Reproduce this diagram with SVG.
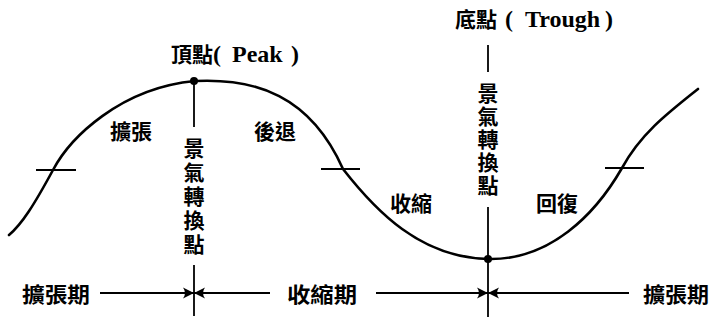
<svg xmlns="http://www.w3.org/2000/svg" width="712" height="320" viewBox="0 0 712 320">
<style>
.t{font-family:"Liberation Serif","Noto Sans CJK TC",serif;font-size:21px;font-weight:bold;fill:#000;text-anchor:middle}
.ti{font-family:"Liberation Serif","Noto Sans CJK TC",serif;font-size:21px;font-weight:bold;fill:#000}
.la{font-size:24px;font-weight:bold}
.ln{stroke:#000;stroke-width:1.8;fill:none}
.cv{stroke:#000;stroke-width:2.6;fill:none;stroke-linecap:round}
</style>
<defs>
<marker id="ah" markerUnits="userSpaceOnUse" markerWidth="12" markerHeight="12" refX="11" refY="6" orient="auto">
<path d="M0,0.5 Q4,6 0,11.5 L11,6 Z" fill="#000"/>
</marker>
</defs>
<rect width="712" height="320" fill="#fff"/>
<g id="curve">
<path class="cv" d="M9,235 C22,224 34,205 53,170 C70,138 120,88 195,81 C255,78 310,95 343,169 C375,210 420,258 489,259 C550,260 595,215 622,168 C640,135 665,115 698,89"/>
<line class="ln" x1="36" y1="170" x2="76" y2="170"/>
<line class="ln" x1="321" y1="169" x2="360" y2="169"/>
<line class="ln" x1="605" y1="168" x2="644" y2="168"/>
</g>
<g id="peak">
<circle cx="194" cy="81" r="4" fill="#000"/>
<text class="ti" x="171" y="62">頂點<tspan class="la" x="213">(</tspan><tspan class="la" x="232">Peak</tspan><tspan class="la" x="291">)</tspan></text>
<text class="t" x="194"><tspan x="194" y="156">景</tspan><tspan x="194" y="180">氣</tspan><tspan x="194" y="204">轉</tspan><tspan x="194" y="228">換</tspan><tspan x="194" y="252">點</tspan></text>
</g>
<g id="trough">
<circle cx="488" cy="259" r="4" fill="#000"/>
<text class="ti" x="455" y="27">底點<tspan class="la" x="505">(</tspan><tspan class="la" x="525">Trough</tspan><tspan class="la" x="605">)</tspan></text>
<text class="t" x="488"><tspan x="488" y="101">景</tspan><tspan x="488" y="124">氣</tspan><tspan x="488" y="147">轉</tspan><tspan x="488" y="170">換</tspan><tspan x="488" y="193">點</tspan></text>
</g>
<g id="phases">
<text class="t" x="131" y="139">擴張</text>
<text class="t" x="275" y="139">後退</text>
<text class="t" x="411" y="211">收縮</text>
<text class="t" x="557" y="211">回復</text>
</g>
<g id="periods">
<text class="t" x="56" y="302" textLength="68" lengthAdjust="spacingAndGlyphs">擴張期</text>
<text class="t" x="322" y="302" textLength="70" lengthAdjust="spacingAndGlyphs">收縮期</text>
<text class="t" x="676" y="302" textLength="66" lengthAdjust="spacingAndGlyphs">擴張期</text>
</g>
<g id="connectors">
<line class="ln" x1="194" y1="81" x2="194" y2="127"/>
<line class="ln" x1="194" y1="265" x2="194" y2="316"/>
<line class="ln" x1="488" y1="45" x2="488" y2="72"/>
<line class="ln" x1="488" y1="207" x2="488" y2="317"/>
<line class="ln" x1="100" y1="293" x2="194" y2="293" marker-end="url(#ah)"/>
<line class="ln" x1="270" y1="293" x2="194" y2="293" marker-end="url(#ah)"/>
<line class="ln" x1="376" y1="293" x2="488" y2="293" marker-end="url(#ah)"/>
<line class="ln" x1="629" y1="293" x2="488" y2="293" marker-end="url(#ah)"/>
</g>
</svg>
